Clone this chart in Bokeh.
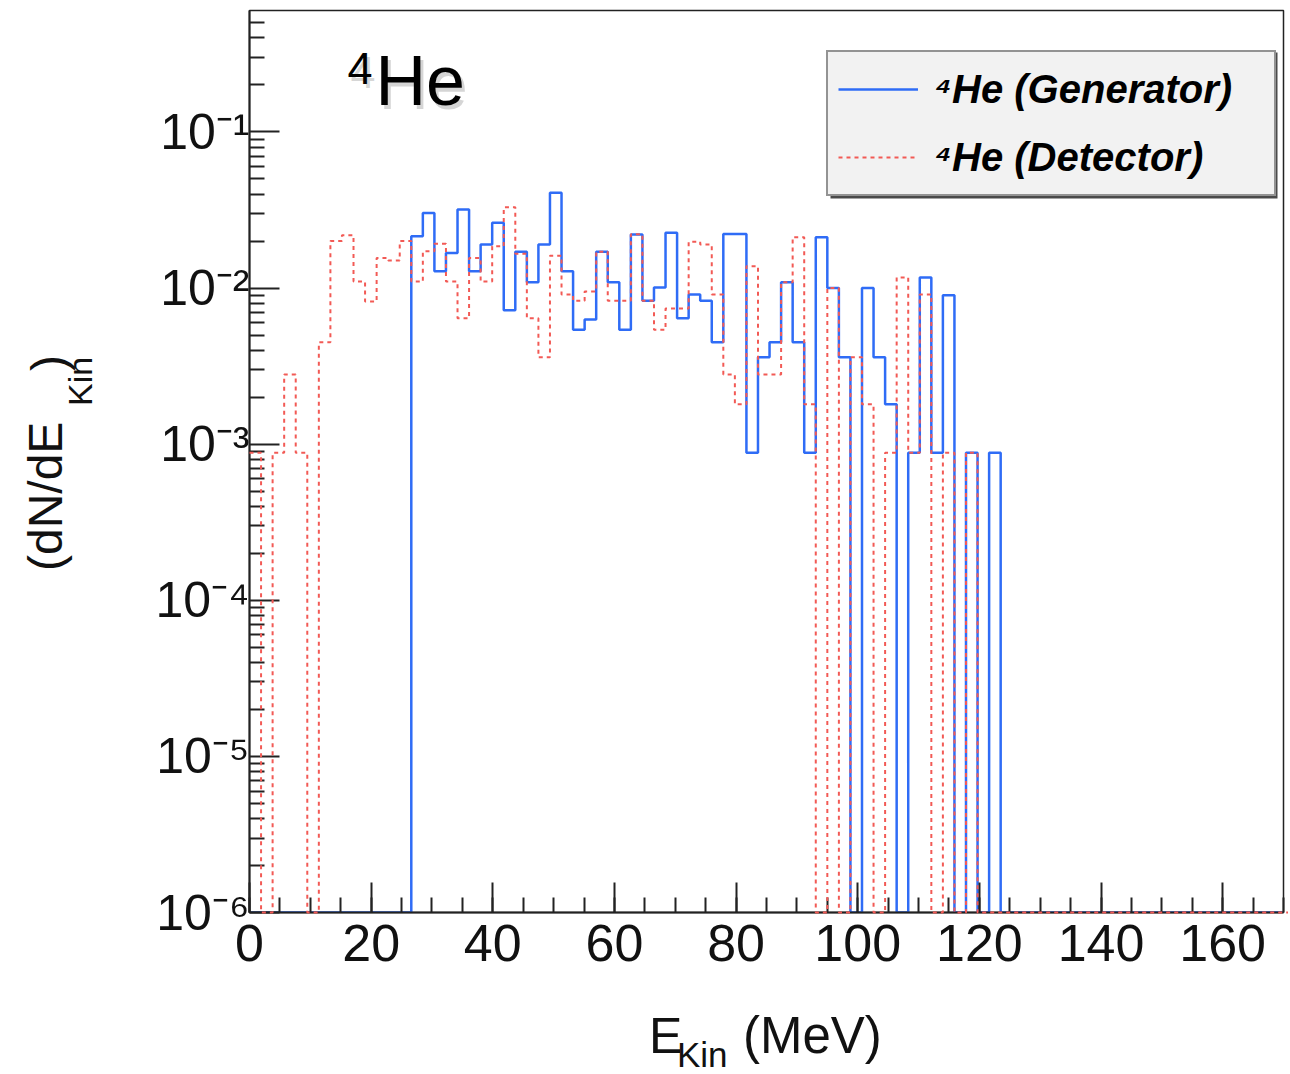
import math
from bokeh.plotting import figure
from bokeh.layouts import row, column
from bokeh.models import (Range1d, SingleIntervalTicker, FixedTicker, CustomJSTickFormatter,
                          Label, Legend, LegendItem, Div, BoxAnnotation)
from bokeh.embed import file_html
from bokeh.resources import INLINE

# ---------------- data ----------------
BIN_WIDTH = 1.9          # MeV
N_BINS = 90

# 4He (Generator) - normalised counts per bin
generator = [
    0, 0, 0, 0, 0, 0, 0, 0, 0, 0,
    0, 0, 0, 0, 0.0215, 0.0303, 0.0128, 0.0168, 0.0319, 0.0128,
    0.0190, 0.0262, 0.0072, 0.0171, 0.0109, 0.0190, 0.0408, 0.0128, 0.0054, 0.0063,
    0.0171, 0.0109, 0.0054, 0.0220, 0.0083, 0.0101, 0.0226, 0.0064, 0.0091, 0.0083,
    0.0045, 0.0222, 0.0222, 0.00088, 0.0036, 0.0045, 0.0109, 0.0045, 0.00088, 0.0212,
    0.0100, 0.0036, 0, 0.0100, 0.0036, 0.0018, 0, 0.00088, 0.0117, 0.00088,
    0.0090, 0, 0.00088, 0, 0.00088, 0, 0, 0, 0, 0,
    0, 0, 0, 0, 0, 0, 0, 0, 0, 0,
    0, 0, 0, 0, 0, 0, 0, 0, 0, 0,
]

# 4He (Detector)
detector = [
    0.00088, 0, 0.00088, 0.0028, 0.00088, 0, 0.0045, 0.0200, 0.0218, 0.0110,
    0.0082, 0.0156, 0.0150, 0.0200, 0.0110, 0.0172, 0.0192, 0.0110, 0.0064, 0.0156,
    0.0110, 0.0185, 0.0330, 0.0166, 0.0064, 0.0036, 0.0161, 0.0091, 0.0083, 0.0095,
    0.0171, 0.0083, 0.0083, 0.0221, 0.0083, 0.0054, 0.0074, 0.0074, 0.0198, 0.0190,
    0.0091, 0.0028, 0.0018, 0.0138, 0.0028, 0.0028, 0.0109, 0.0212, 0.0018, 0,
    0.0100, 0, 0.0036, 0.0018, 0, 0.00088, 0.0117, 0.00088, 0.0091, 0,
    0.00088, 0, 0.00088, 0, 0, 0, 0, 0, 0, 0,
    0, 0, 0, 0, 0, 0, 0, 0, 0, 0,
    0, 0, 0, 0, 0, 0, 0, 0, 0, 0,
]

series_labels = ["\u2074He (Generator)", "\u2074He (Detector)"]

y_ticks = [1e-6, 1e-5, 1e-4, 1e-3, 1e-2, 1e-1]
y_tick_labels = ["10\u207b\u2076", "10\u207b\u2075", "10\u207b\u2074",
                 "10\u207b\u00b3", "10\u207b\u00b2", "10\u207b\u00b9"]

X_MIN, X_MAX = 0, 170
Y_MIN, Y_MAX = 1e-6, 0.6

FONT = "Liberation Sans"
LEFT_W = 110          # width of the y-title strip
FIG_W, FIG_H = 1178, 990
BOTTOM_H = 84

# ---------------- figure ----------------
p = figure(width=FIG_W, height=FIG_H, output_backend="svg", toolbar_location=None,
           title=None, y_axis_type="log",
           x_range=Range1d(X_MIN, X_MAX), y_range=Range1d(Y_MIN, Y_MAX),
           min_border_left=139, min_border_right=5, min_border_top=10,
           min_border_bottom=78)
p.background_fill_color = "white"
p.border_fill_color = "white"
p.outline_line_color = "#222222"
p.outline_line_width = 1.5
p.xgrid.visible = False
p.ygrid.visible = False

edges = [i * BIN_WIDTH for i in range(N_BINS + 1)]


def step_values(vals):
    ys = [v if v > 0 else Y_MIN for v in vals]
    return ys + [ys[-1]]


blue = p.step(x=edges, y=step_values(generator), mode="after",
              line_color="#2f6cf6", line_width=2.5)
red = p.step(x=edges, y=step_values(detector), mode="after",
             line_color="#f25a55", line_width=2, line_dash="4 4")
red.level = "annotation"

for ax in (p.xaxis[0], p.yaxis[0]):
    ax.axis_line_color = "#222222"
    ax.axis_line_width = 2
    ax.major_tick_line_color = "#222222"
    ax.minor_tick_line_color = "#222222"
    ax.major_tick_line_width = 2
    ax.minor_tick_line_width = 2
    ax.major_tick_in = 30
    ax.major_tick_out = 0
    ax.minor_tick_in = 15
    ax.minor_tick_out = 0
    ax.major_label_text_font = FONT
    ax.major_label_text_color = "#111111"

p.xaxis.ticker = SingleIntervalTicker(interval=20, num_minor_ticks=4)
p.xaxis.major_label_text_font_size = "52px"
p.xaxis.major_label_standoff = 12

minor_y = []
for d in range(-7, 1):
    for m in range(2, 10):
        minor_y.append(m * 10.0 ** d)
p.yaxis.ticker = FixedTicker(ticks=y_ticks, minor_ticks=minor_y)
p.yaxis.formatter = CustomJSTickFormatter(
    args=dict(vals=y_ticks, labs=y_tick_labels),
    code="""
    for (let i = 0; i < vals.length; i++) {
        if (Math.abs(Math.log10(vals[i]) - Math.log10(tick)) < 1e-6) return labs[i];
    }
    return "";
    """)
p.yaxis.major_label_text_font_size = "50px"
p.yaxis.major_label_standoff = 0

# legend shadow (ROOT style) drawn behind the legend box
p.add_layout(BoxAnnotation(left=720, right=1167, top=52, bottom=198,
                           left_units="canvas", right_units="canvas",
                           top_units="canvas", bottom_units="canvas",
                           fill_color="#4a4a4a", fill_alpha=1.0, line_alpha=0))

legend = Legend(items=[LegendItem(label=series_labels[0], renderers=[blue]),
                       LegendItem(label=series_labels[1], renderers=[red])],
                location=(577, 716), orientation="vertical",
                padding=10, spacing=14, margin=0,
                glyph_width=80, glyph_height=54, label_height=54,
                label_standoff=17, label_width=329,
                label_text_font=FONT, label_text_font_style="bold italic",
                label_text_font_size="40px", label_text_color="black",
                background_fill_color="#f2f2f2", background_fill_alpha=1.0,
                border_line_color="#333333", border_line_width=2)
p.add_layout(legend, "center")

# panel title "4He" with a soft shadow
for dx, dy, col, alpha in ((3, 4, "#888888", 0.35), (0, 0, "black", 1.0)):
    p.add_layout(Label(x=237 + dx, y=68 + dy, x_units="canvas", y_units="canvas",
                       text="4", text_font=FONT, text_font_size="45px",
                       text_baseline="alphabetic",
                       text_color=col, text_alpha=alpha))
    p.add_layout(Label(x=265 + dx, y=80 + dy, x_units="canvas", y_units="canvas",
                       text="He", text_font=FONT, text_font_size="70px",
                       text_baseline="alphabetic",
                       text_color=col, text_alpha=alpha))

# ---------------- axis titles (HTML text) ----------------
rot = ("position:absolute;transform:rotate(-90deg);transform-origin:0 0;"
       "white-space:nowrap;")
ytitle = Div(width=LEFT_W, height=FIG_H + BOTTOM_H, margin=0, text=(
    f'<div style="position:relative;width:{LEFT_W}px;height:{FIG_H + BOTTOM_H}px;'
    f'font-family:\'{FONT}\';color:#111111;">'
    f'<div style="{rot}left:22px;top:571px;font-size:48px;line-height:48px;">(dN/dE</div>'
    f'<div style="{rot}left:63px;top:406px;font-size:34px;line-height:34px;">Kin</div>'
    f'<div style="{rot}left:25px;top:371px;font-size:48px;line-height:48px;">)</div>'
    '</div>'))

abs_ = "position:absolute;white-space:nowrap;"
xtitle = Div(width=FIG_W, height=BOTTOM_H, margin=0, text=(
    f'<div style="position:relative;width:{FIG_W}px;height:{BOTTOM_H}px;'
    f'font-family:\'{FONT}\';color:#111111;">'
    f'<div style="{abs_}left:539px;top:21px;font-size:50px;line-height:50px;">E</div>'
    f'<div style="{abs_}left:567px;top:47px;font-size:35px;line-height:35px;">Kin</div>'
    f'<div style="{abs_}left:633px;top:20px;font-size:51px;line-height:51px;">(MeV)</div>'
    '</div>'))

layout = row(ytitle, column(p, xtitle, spacing=0), spacing=0)

with open("out.html", "w", encoding="utf-8") as f:
    f.write(file_html(layout, INLINE))
